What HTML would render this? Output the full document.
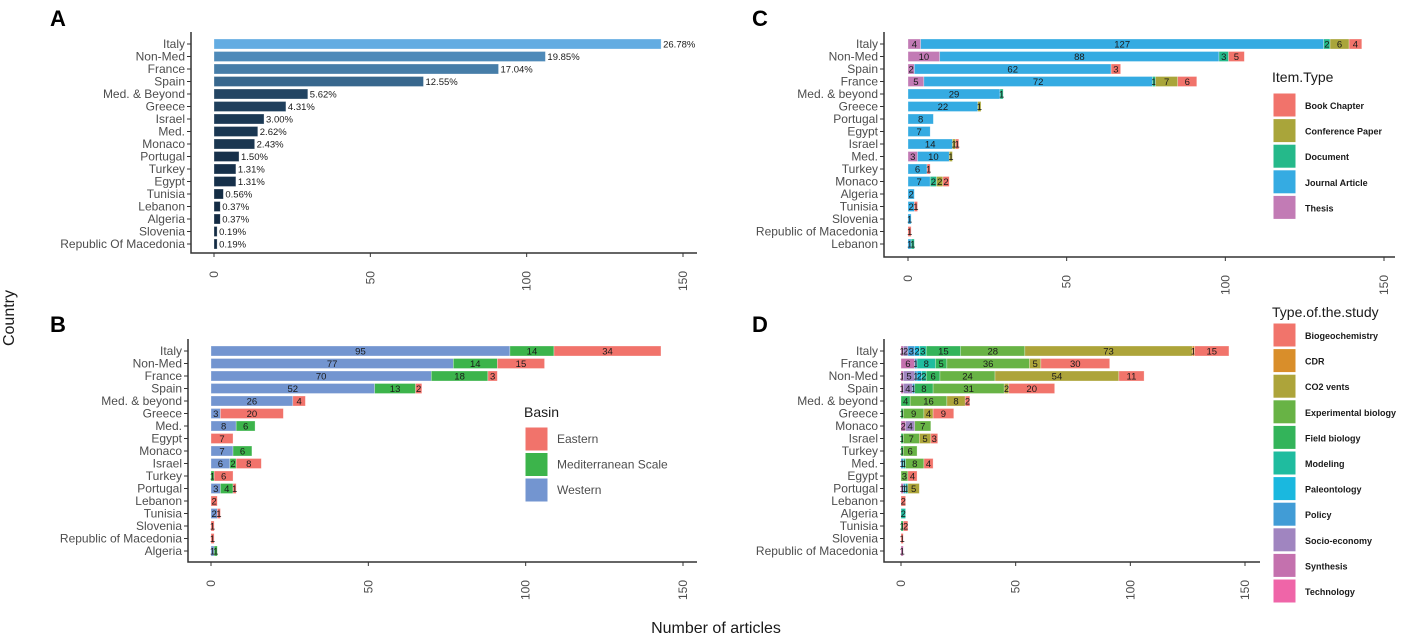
<!DOCTYPE html>
<html><head><meta charset="utf-8"><style>
body{margin:0;background:#fff;}
svg text{font-family:"Liberation Sans",Arial,sans-serif;}
.cat{font-size:12px;fill:#4d4d4d;text-anchor:end;}
.tick{font-size:12px;fill:#4d4d4d;}
.lbl{font-size:9.5px;fill:#1a1a1a;text-anchor:middle;}
.pct{font-size:9.5px;fill:#1a1a1a;text-anchor:start;}
.leg{font-size:9px;font-weight:bold;fill:#1a1a1a;}
.legt{font-size:14px;fill:#1a1a1a;}
.pl{font-size:22px;font-weight:bold;fill:#000;}
</style></head><body>
<svg id="chart" width="1403" height="636" xmlns="http://www.w3.org/2000/svg">
<text class="pl" x="50" y="26">A</text>
<text class="pl" x="50" y="332">B</text>
<text class="pl" x="752" y="26">C</text>
<text class="pl" x="752" y="332">D</text>
<text x="14" y="318" font-size="16" fill="#1a1a1a" text-anchor="middle" transform="rotate(-90 14 318)">Country</text>
<text x="716" y="633" font-size="16" fill="#1a1a1a" text-anchor="middle">Number of articles</text>
</svg>
<script>
// Panel A data
const catsA=["Italy","Non-Med","France","Spain","Med. & Beyond","Greece","Israel","Med.","Monaco","Portugal","Turkey","Egypt","Tunisia","Lebanon","Algeria","Slovenia","Republic Of Macedonia"];
const valsA=[143,106,91,67,30,23,16,14,13,8,7,7,3,2,2,1,1];
const pctA=["26.78%","19.85%","17.04%","12.55%","5.62%","4.31%","3.00%","2.62%","2.43%","1.50%","1.31%","1.31%","0.56%","0.37%","0.37%","0.19%","0.19%"];
// Panel B data
const catsB=["Italy","Non-Med","France","Spain","Med. & beyond","Greece","Med.","Egypt","Monaco","Israel","Turkey","Portugal","Lebanon","Tunisia","Slovenia","Republic of Macedonia","Algeria"];
const seriesB=["Western","Mediterranean Scale","Eastern"];
const western=[95,77,70,52,26,3,8,0,7,6,0,3,0,2,0,0,1];
const medScale=[14,14,18,13,0,0,6,0,6,2,1,4,0,0,0,0,1];
const eastern=[34,15,3,2,4,20,0,7,0,8,6,1,2,1,1,1,0];
// Panel C data
const catsC=["Italy","Non-Med","Spain","France","Med. & beyond","Greece","Portugal","Egypt","Israel","Med.","Turkey","Monaco","Algeria","Tunisia","Slovenia","Republic of Macedonia","Lebanon"];
const seriesC=["Thesis","Journal Article","Document","Conference Paper","Book Chapter"];
const thesis=[4,10,2,5,0,0,0,0,0,3,0,0,0,0,0,0,0];
const journal=[127,88,62,72,29,22,8,7,14,10,6,7,2,2,1,0,1];
const documentC=[2,3,0,1,1,0,0,0,0,0,0,2,0,0,0,0,1];
const conference=[6,0,0,7,0,1,0,0,1,1,0,2,0,0,0,0,0];
const bookChapter=[4,5,3,6,0,0,0,0,1,0,1,2,0,1,0,1,0];
// Panel D data
const catsD=["Italy","France","Non-Med","Spain","Med. & beyond","Greece","Monaco","Israel","Turkey","Med.","Egypt","Portugal","Lebanon","Algeria","Tunisia","Slovenia","Republic of Macedonia"];
const seriesD=["Technology","Synthesis","Socio-economy","Policy","Paleontology","Modeling","Field biology","Experimental biology","CO2 vents","CDR","Biogeochemistry"];
const technology=[0,0,0,0,0,0,0,0,0,0,0,0,0,0,0,0,0];
const synthesis=[1,6,1,1,0,0,2,0,0,0,0,1,0,0,0,0,1];
const socio=[2,0,5,4,0,0,4,0,0,0,0,0,0,0,0,0,0];
const policy=[3,1,1,1,0,0,0,0,0,1,0,1,0,0,0,0,0];
const paleo=[2,0,2,0,0,0,0,0,0,0,0,0,0,0,0,0,0];
const modeling=[3,8,2,0,0,0,0,0,0,1,0,1,0,2,0,0,0];
const field=[15,5,6,8,4,1,0,1,1,0,0,0,0,0,1,0,0];
const experimental=[28,36,24,31,16,9,7,7,6,8,3,0,0,0,0,0,0];
const co2=[73,5,54,2,8,4,0,5,0,0,0,5,0,0,0,0,0];
const cdr=[1,0,0,0,0,0,0,0,0,0,0,0,0,0,0,0,0];
const biogeo=[15,30,11,20,2,9,0,3,0,4,4,0,2,0,2,1,0];
const ticks=[0,50,100,150];

const svg=document.getElementById('chart');
const NS="http://www.w3.org/2000/svg";
function mk(tag,attrs,parent){const e=document.createElementNS(NS,tag);for(const k in attrs)e.setAttribute(k,attrs[k]);(parent||svg).appendChild(e);return e;}

function panel(id,cfg){
  const g=mk('g',{});
  
  
  const x=v=>cfg.x0+v*(cfg.x150-cfg.x0)/150;
  const y=i=>cfg.yTop+i*cfg.step;
  const ax=mk('path',{d:`M${cfg.axX} ${cfg.yTop-12} V${cfg.axY} H${cfg.axR}`,stroke:'#333',fill:'none','stroke-width':1.5},g);
  
  
  cfg.cats.forEach((c,i)=>{
    mk('line',{x1:cfg.axX-4,x2:cfg.axX,y1:y(i),y2:y(i),stroke:'#333'},g);
    const t=mk('text',{class:'cat',x:cfg.axX-6,y:y(i)+4},g);t.textContent=c;
    
    
  });
  ticks.forEach(v=>{
    mk('line',{x1:x(v),x2:x(v),y1:cfg.axY,y2:cfg.axY+4,stroke:'#333'},g);
    const t=mk('text',{class:'tick',x:x(v)+4,y:cfg.axY+18,style:'text-anchor:end',transform:`rotate(-90 ${x(v)+4} ${cfg.axY+18})`},g);
    t.textContent=v;
    
    
  });
  cfg.cats.forEach((c,i)=>{
    let acc=0;
    cfg.series.forEach((arr,si)=>{
      const v=arr[i]; if(!v)return;
      const col=typeof cfg.colors==='function'?cfg.colors(v):cfg.colors[si];
      const r=mk('rect',{x:x(acc),y:y(i)-5,width:x(acc+v)-x(acc),height:10,fill:col,stroke:'#fff','stroke-opacity':0.5,'stroke-width':0.6},g);
      
      
      if(cfg.labels){
        const t=mk('text',{class:'lbl',x:(x(acc)+x(acc+v))/2,y:y(i)+3.5},g);t.textContent=v;
        
        
      }
      acc+=v;
    });
    if(cfg.pct){
      const t=mk('text',{class:'pct',x:x(acc)+2,y:y(i)+3.5},g);t.textContent=cfg.pct[i];
      
      
    }
  });
  if(cfg.legend){
    const L=cfg.legend;
    const lg=mk('g',{},g);
    
    
    const tt=mk('text',{class:'legt',x:L.x,y:L.y},lg);tt.textContent=L.title;
    L.names.forEach((n,k)=>{
      const ky=L.y+L.off+k*L.step;
      const r=mk('rect',{x:L.x+1,y:ky,width:L.w,height:L.h,fill:L.cols[k],stroke:'#fff'},lg);
      
      
      const t=mk('text',{class:L.cls,x:L.x+L.w+10,y:ky+L.h/2+4},lg);t.textContent=n;
      
      
    });
  }
}
function grad(v){const t=(v-1)/142;const a=[19,43,67],b=[99,172,226];return `rgb(${a.map((c,i)=>Math.round(c+(b[i]-c)*t)).join(',')})`;}

panel('panel-a',{cats:catsA,series:[valsA],colors:grad,pct:pctA,x0:214,x150:683,yTop:44,step:12.5,axX:191,axY:253,axR:697});
const bc=['#7395d0','#3cb44b','#f1736b'];
panel('panel-b',{cats:catsB,series:[western,medScale,eastern],colors:bc,labels:true,x0:211,x150:683,yTop:351,step:12.5,axX:188,axY:562,axR:697,
 legend:{title:'Basin',names:['Eastern','Mediterranean Scale','Western'],cols:[bc[2],bc[1],bc[0]],x:524,y:417,off:10,step:25.5,w:23,h:24,cls:'tick'}});
const cc=['#c27bb5','#35abe2','#25b98a','#a9a53a','#f1736b'];
panel('panel-c',{cats:catsC,series:[thesis,journal,documentC,conference,bookChapter],colors:cc,labels:true,x0:908,x150:1384,yTop:44,step:12.5,axX:884,axY:257,axR:1395,
 legend:{title:'Item.Type',names:['Book Chapter','Conference Paper','Document','Journal Article','Thesis'],cols:[cc[4],cc[3],cc[2],cc[1],cc[0]],x:1272,y:82,off:11,step:25.6,w:23,h:24,cls:'leg'}});
const dc=['#ef65a8','#c471ae','#a085c0','#419cd6','#1ab8df','#1fbc9f','#33b45a','#68b345','#ada43a','#d98e2a','#f1746b'];
panel('panel-d',{cats:catsD,series:[technology,synthesis,socio,policy,paleo,modeling,field,experimental,co2,cdr,biogeo],colors:dc,labels:true,x0:901,x150:1245,yTop:351,step:12.5,axX:884,axY:562,axR:1260,
 legend:{title:'Type.of.the.study',names:seriesD.slice().reverse(),cols:dc.slice().reverse(),x:1272,y:317,off:6,step:25.6,w:23,h:24,cls:'leg'}});
</script>
</body></html>
